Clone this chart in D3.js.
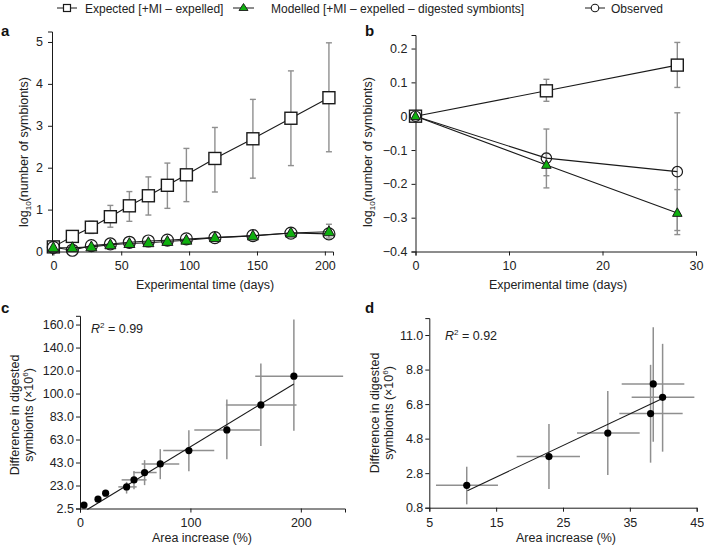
<!DOCTYPE html>
<html><head><meta charset="utf-8">
<script src="https://cdn.jsdelivr.net/npm/d3@7"></script>
<style>
body{margin:0;background:#fff;}
svg{display:block;font-family:"Liberation Sans",Arial,Helvetica,sans-serif;}
</style></head><body>
<svg id="chart" width="704" height="548"></svg>
<script>
// ---------- DATA ----------
const legendLabels = ["Expected [+MI \u2013 expelled]", "Modelled [+MI \u2013 expelled \u2013 digested symbionts]", "Observed"];

// Panel a
const daysA = [0, 14, 28, 42, 56, 70, 84, 98, 119, 147, 175, 203];
const expectedA = [0.11, 0.36, 0.58, 0.83, 1.09, 1.33, 1.58, 1.83, 2.22, 2.69, 3.18, 3.67];
const expectedLoA = [0.09, 0.30, 0.43, 0.58, 0.72, 0.87, 1.03, 1.19, 1.42, 1.75, 2.05, 2.38];
const expectedHiA = [0.13, 0.42, 0.72, 1.10, 1.43, 1.78, 2.11, 2.46, 2.96, 3.63, 4.31, 4.98];
const modelledA = [0.09, 0.09, 0.11, 0.16, 0.19, 0.21, 0.24, 0.27, 0.33, 0.37, 0.44, 0.47];
const observedA = [0.10, 0.03, 0.14, 0.18, 0.22, 0.25, 0.27, 0.30, 0.33, 0.38, 0.44, 0.42];
const observedLoA = [null, null, null, null, null, null, null, null, null, null, null, 0.32];
const observedHiA = [null, null, null, null, null, null, null, null, null, null, null, 0.65];
const xTicksA = [0, 50, 100, 150, 200];
const yTicksA = [0, 1, 2, 3, 4, 5];

// Panel b
const daysB = [0, 14, 28];
const expectedB = [0, 0.075, 0.151];
const expectedLoB = [0, 0.044, 0.085];
const expectedHiB = [0, 0.109, 0.218];
const observedB = [0, -0.124, -0.164];
const observedLoB = [0, -0.212, -0.350];
const observedHiB = [0, -0.038, 0.010];
const modelledB = [0, -0.144, -0.286];
const modelledLoB = [0, -0.176, -0.338];
const modelledHiB = [0, -0.110, -0.217];
const xTicksB = [0, 10, 20, 30];
const yTicksB = [-0.4, -0.3, -0.2, -0.1, 0, 0.1, 0.2];
const yTickLabelsB = ["\u22120.4", "\u22120.3", "\u22120.2", "\u22120.1", "0", "0.1", "0.2"];

// Panel c
const areaC = [3.6, 16.3, 23.2, 42.2, 48.9, 58.5, 72.7, 98.6, 133.0, 163.8, 193.7];
const areaLoC = [null, null, null, 34.7, 37.7, 48.3, 55.8, 75.4, 103.5, 132.1, 158.7];
const areaHiC = [null, null, null, 51.3, 60.3, 69.4, 89.9, 121.6, 162.9, 196.1, 238.3];
const digestedC = [5.4, 10.5, 15.6, 21.0, 27.0, 33.3, 40.7, 52.1, 69.8, 91.2, 115.8];
const digestedLoC = [null, null, 13.1, 15.3, 19.0, 22.5, 27.6, 34.5, 44.7, 56.1, 69.0];
const digestedHiC = [null, null, 18.2, 25.3, 34.7, 43.9, 53.3, 69.5, 95.8, 126.6, 164.3];
const fitC = {slope: 0.575, intercept: -2.2, x0: 6.6, x1: 193.7};
const r2C = "0.99";
const xTicksC = [0, 100, 200];
const yTickLabelsC = ["2.5", "23.0", "43.0", "63.0", "83.0", "100.0", "120.0", "140.0", "160.0"];

// Panel d
const areaD = [10.6, 22.9, 31.7, 38.1, 38.5, 39.9];
const areaLoD = [6.0, 18.07, 27.1, 33.43, 33.78, 35.27];
const areaHiD = [15.27, 27.54, 36.47, 42.9, 43.15, 44.65];
const digestedD = [2.12, 3.82, 5.21, 6.36, 8.11, 7.32];
const digestedLoD = [1.0, 1.9, 2.73, 3.46, 4.7, 4.11];
const digestedHiD = [3.22, 5.75, 7.70, 9.24, 11.46, 10.48];
const fitD = {slope: 0.1863, intercept: -0.186, x0: 10.7, x1: 39.8};
const r2D = "0.92";
const xTicksD = [5, 15, 25, 35, 45];
const yTickLabelsD = ["0.8", "2.8", "4.8", "6.8", "8.8", "11.0"];

// ---------- STYLE ----------
const INK = "#1a1a1a";
const ERR = "#8f8f8f";
const GREEN = "#0fb00f";
const FL = 12;
const FT = 12.5;

const svg = d3.select("#chart");

function styleAxis(g) {
  g.selectAll("path.domain").attr("stroke", INK).attr("stroke-width", 1);
  g.selectAll(".tick line").attr("stroke", INK).attr("stroke-width", 1);
  g.selectAll(".tick text").attr("fill", "#222").style("font-size", FT + "px")
    .style("font-family", '"Liberation Sans",Arial,sans-serif');
}

function vErr(g, xs, lo, hi, xScale, yScale, cap, w) {
  xs.forEach((x, i) => {
    if (lo[i] == null || hi[i] == null) return;
    const px = xScale(x);
    g.append("line").attr("x1", px).attr("x2", px).attr("y1", yScale(lo[i])).attr("y2", yScale(hi[i]))
      .attr("stroke", ERR).attr("stroke-width", w);
    if (cap > 0) {
      [lo[i], hi[i]].forEach(v => g.append("line").attr("x1", px - cap).attr("x2", px + cap)
        .attr("y1", yScale(v)).attr("y2", yScale(v)).attr("stroke", ERR).attr("stroke-width", w));
    }
  });
}
function hErr(g, ys, lo, hi, xScale, yScale, w) {
  ys.forEach((y, i) => {
    if (lo[i] == null || hi[i] == null) return;
    const py = yScale(y);
    g.append("line").attr("y1", py).attr("y2", py).attr("x1", xScale(lo[i])).attr("x2", xScale(hi[i]))
      .attr("stroke", ERR).attr("stroke-width", w);
  });
}
function lineOf(g, xs, ys, xScale, yScale) {
  g.append("path").datum(xs.map((x, i) => [x, ys[i]]))
    .attr("d", d3.line().x(d => xScale(d[0])).y(d => yScale(d[1])))
    .attr("fill", "none").attr("stroke", INK).attr("stroke-width", 1.1);
}
function squares(g, xs, ys, xScale, yScale, s) {
  xs.forEach((x, i) => g.append("rect").attr("x", xScale(x) - s / 2).attr("y", yScale(ys[i]) - s / 2)
    .attr("width", s).attr("height", s).attr("fill", "#fff").attr("stroke", INK).attr("stroke-width", 1.4));
}
function circles(g, xs, ys, xScale, yScale, r) {
  xs.forEach((x, i) => g.append("circle").attr("cx", xScale(x)).attr("cy", yScale(ys[i])).attr("r", r)
    .attr("fill", "none").attr("stroke", INK).attr("stroke-width", 1.2));
}
function triangles(g, xs, ys, xScale, yScale, w) {
  const h = w * 0.9;
  xs.forEach((x, i) => {
    const cx = xScale(x), cy = yScale(ys[i]);
    g.append("path").attr("d", `M${cx},${cy - h * 0.6}L${cx + w / 2},${cy + h * 0.4}L${cx - w / 2},${cy + h * 0.4}Z`)
      .attr("fill", GREEN).attr("stroke", INK).attr("stroke-width", 1);
  });
}
function panelLetter(t, x, y) {
  svg.append("text").attr("x", x).attr("y", y).text(t).attr("font-weight", "bold")
    .attr("font-size", 15).attr("fill", "#111");
}
function hTitle(t, x, y) {
  svg.append("text").attr("x", x).attr("y", y).attr("text-anchor", "middle")
    .attr("font-size", FT).attr("fill", "#222").text(t);
}

// ---------- LEGEND ----------
const leg = svg.append("g");
leg.append("line").attr("x1", 57).attr("x2", 77).attr("y1", 8).attr("y2", 8).attr("stroke", INK);
leg.append("rect").attr("x", 63.5).attr("y", 4.5).attr("width", 7).attr("height", 7).attr("fill", "#fff").attr("stroke", INK).attr("stroke-width", 1.2);
leg.append("text").attr("x", 85).attr("y", 12.5).attr("font-size", FL).attr("fill", "#222").text(legendLabels[0]);
leg.append("line").attr("x1", 233).attr("x2", 254).attr("y1", 8).attr("y2", 8).attr("stroke", INK);
leg.append("path").attr("d", "M243.5,3.5L248,10.5L239,10.5Z").attr("fill", GREEN).attr("stroke", INK).attr("stroke-width", 0.9);
leg.append("text").attr("x", 271).attr("y", 12.5).attr("font-size", FL).attr("fill", "#222").text(legendLabels[1]);
leg.append("line").attr("x1", 585).attr("x2", 605).attr("y1", 8).attr("y2", 8).attr("stroke", INK);
leg.append("circle").attr("cx", 595).attr("cy", 8).attr("r", 3.8).attr("fill", "#fff").attr("stroke", INK).attr("stroke-width", 1.1);
leg.append("text").attr("x", 611).attr("y", 12.5).attr("font-size", FL).attr("fill", "#222").text(legendLabels[2]);

// ---------- PANEL A ----------
{
  const x = d3.scaleLinear().domain([-1, 206]).range([52, 333]);
  const y = d3.scaleLinear().domain([0, 5.25]).range([251.5, 31.5]);
  const g = svg.append("g");
  const gx = g.append("g").attr("transform", `translate(0,${y(0)})`)
    .call(d3.axisBottom(x).tickValues(xTicksA).tickSizeOuter(0).tickSize(4).tickPadding(6));
  styleAxis(gx);
  const gy = g.append("g").attr("transform", `translate(${x(-1)},0)`)
    .call(d3.axisLeft(y).tickValues(yTicksA).tickFormat(d3.format("d")).tickSizeOuter(0).tickSize(4).tickPadding(5));
  styleAxis(gy);
  vErr(g, daysA, expectedLoA, expectedHiA, x, y, 3, 1.4);
  vErr(g, daysA, observedLoA, observedHiA, x, y, 3, 1.4);
  lineOf(g, daysA, expectedA, x, y);
  lineOf(g, daysA, observedA, x, y);
  lineOf(g, daysA, modelledA, x, y);
  squares(g, daysA, expectedA, x, y, 12);
  circles(g, daysA, observedA, x, y, 6);
  triangles(g, daysA, modelledA, x, y, 11);
  panelLetter("a", 1, 36);
  hTitle("Experimental time (days)", 205, 289);
  svg.append("text").attr("transform", "translate(27.5,152) rotate(-90)").attr("text-anchor", "middle")
    .attr("font-size", FT).attr("fill", "#222")
    .call(t => { t.append("tspan").text("log"); t.append("tspan").attr("font-size", 8).attr("dy", 3).text("10");
      t.append("tspan").attr("dy", -3).text("(number of symbionts)"); });
}

// ---------- PANEL B ----------
{
  const x = d3.scaleLinear().domain([0, 30]).range([415.5, 696]);
  const y = d3.scaleLinear().domain([-0.4, 0.24]).range([251.5, 35]);
  const g = svg.append("g");
  const gx = g.append("g").attr("transform", `translate(0,${y(-0.4)})`)
    .call(d3.axisBottom(x).tickValues(xTicksB).tickSizeOuter(0).tickSize(4).tickPadding(6));
  styleAxis(gx);
  const gy = g.append("g").attr("transform", `translate(${x(0)},0)`)
    .call(d3.axisLeft(y).tickValues(yTicksB).tickFormat((d, i) => yTickLabelsB[i]).tickSizeOuter(0).tickSize(4).tickPadding(4));
  styleAxis(gy);
  vErr(g, daysB, expectedLoB, expectedHiB, x, y, 3, 1.4);
  vErr(g, daysB, observedLoB, observedHiB, x, y, 3, 1.4);
  vErr(g, daysB, modelledLoB, modelledHiB, x, y, 3, 1.4);
  lineOf(g, daysB, expectedB, x, y);
  lineOf(g, daysB, observedB, x, y);
  lineOf(g, daysB, modelledB, x, y);
  squares(g, daysB, expectedB, x, y, 12);
  circles(g, daysB, observedB, x, y, 5.2);
  triangles(g, daysB, modelledB, x, y, 9.5);
  panelLetter("b", 365, 36);
  hTitle("Experimental time (days)", 558, 289);
  svg.append("text").attr("transform", "translate(372,152) rotate(-90)").attr("text-anchor", "middle")
    .attr("font-size", FT).attr("fill", "#222")
    .call(t => { t.append("tspan").text("log"); t.append("tspan").attr("font-size", 8).attr("dy", 3).text("10");
      t.append("tspan").attr("dy", -3).text("(number of symbionts)"); });
}

// ---------- PANEL C ----------
{
  const x = d3.scaleLinear().domain([0, 240]).range([80, 345]);
  const y = d3.scaleLinear().domain([2.5, 167.5]).range([508.5, 315.8]);
  const yTickVals = yTickLabelsC.map((_, i) => 2.5 + i * (160 - 2.5) / (yTickLabelsC.length - 1));
  const g = svg.append("g");
  const gx = g.append("g").attr("transform", `translate(0,${y(2.5)})`)
    .call(d3.axisBottom(x).tickValues(xTicksC).tickSizeOuter(0).tickSize(4).tickPadding(6));
  styleAxis(gx);
  const gy = g.append("g").attr("transform", `translate(${x(0)},0)`)
    .call(d3.axisLeft(y).tickValues(yTickVals).tickFormat((d, i) => yTickLabelsC[i]).tickSizeOuter(0).tickSize(4).tickPadding(2));
  styleAxis(gy);
  vErr(g, areaC, digestedLoC, digestedHiC, x, y, 0, 1.5);
  hErr(g, digestedC, areaLoC, areaHiC, x, y, 1.5);
  g.append("line").attr("x1", x(fitC.x0)).attr("x2", x(fitC.x1))
    .attr("y1", y(fitC.slope * fitC.x0 + fitC.intercept)).attr("y2", y(fitC.slope * fitC.x1 + fitC.intercept))
    .attr("stroke", INK).attr("stroke-width", 1.1);
  areaC.forEach((a, i) => g.append("circle").attr("cx", x(a)).attr("cy", y(digestedC[i])).attr("r", 3.6).attr("fill", "#000"));
  panelLetter("c", 1, 313);
  hTitle("Area increase (%)", 202, 542);
  svg.append("text").attr("x", 91).attr("y", 333).attr("font-size", FT).attr("fill", "#222")
    .call(t => { t.append("tspan").attr("font-style", "italic").text("R");
      t.append("tspan").attr("font-size", 8).attr("dy", -5).text("2");
      t.append("tspan").attr("dy", 5).text(" = " + r2C); });
  svg.append("text").attr("transform", "translate(19,415) rotate(-90)").attr("text-anchor", "middle")
    .attr("font-size", FT).attr("fill", "#222").text("Difference in digested");
  svg.append("text").attr("transform", "translate(32.5,415) rotate(-90)").attr("text-anchor", "middle")
    .attr("font-size", FT).attr("fill", "#222")
    .call(t => { t.append("tspan").text("symbionts (\u00d710");
      t.append("tspan").attr("font-size", 8).attr("dy", -5).text("6");
      t.append("tspan").attr("dy", 5).text(")"); });
}

// ---------- PANEL D ----------
{
  const x = d3.scaleLinear().domain([5, 45]).range([429.3, 696.7]);
  const y = d3.scaleLinear().domain([0.8, 12.0]).range([507.7, 318.1]);
  const yTickVals = yTickLabelsD.map((_, i) => 0.8 + i * (11.0 - 0.8) / (yTickLabelsD.length - 1));
  const g = svg.append("g");
  const gx = g.append("g").attr("transform", `translate(0,${y(0.8)})`)
    .call(d3.axisBottom(x).tickValues(xTicksD).tickSizeOuter(0).tickSize(4).tickPadding(6));
  styleAxis(gx);
  const gy = g.append("g").attr("transform", `translate(${x(5)},0)`)
    .call(d3.axisLeft(y).tickValues(yTickVals).tickFormat((d, i) => yTickLabelsD[i]).tickSizeOuter(0).tickSize(4).tickPadding(2));
  styleAxis(gy);
  vErr(g, areaD, digestedLoD, digestedHiD, x, y, 0, 1.5);
  hErr(g, digestedD, areaLoD, areaHiD, x, y, 1.5);
  g.append("line").attr("x1", x(fitD.x0)).attr("x2", x(fitD.x1))
    .attr("y1", y(fitD.slope * fitD.x0 + fitD.intercept)).attr("y2", y(fitD.slope * fitD.x1 + fitD.intercept))
    .attr("stroke", INK).attr("stroke-width", 1.1);
  areaD.forEach((a, i) => g.append("circle").attr("cx", x(a)).attr("cy", y(digestedD[i])).attr("r", 3.6).attr("fill", "#000"));
  panelLetter("d", 365, 313);
  hTitle("Area increase (%)", 566, 542);
  svg.append("text").attr("x", 445).attr("y", 340).attr("font-size", FT).attr("fill", "#222")
    .call(t => { t.append("tspan").attr("font-style", "italic").text("R");
      t.append("tspan").attr("font-size", 8).attr("dy", -5).text("2");
      t.append("tspan").attr("dy", 5).text(" = " + r2D); });
  svg.append("text").attr("transform", "translate(379,413) rotate(-90)").attr("text-anchor", "middle")
    .attr("font-size", FT).attr("fill", "#222").text("Difference in digested");
  svg.append("text").attr("transform", "translate(392.5,413) rotate(-90)").attr("text-anchor", "middle")
    .attr("font-size", FT).attr("fill", "#222")
    .call(t => { t.append("tspan").text("symbionts (\u00d710");
      t.append("tspan").attr("font-size", 8).attr("dy", -5).text("6");
      t.append("tspan").attr("dy", 5).text(")"); });
}
</script>
</body></html>
